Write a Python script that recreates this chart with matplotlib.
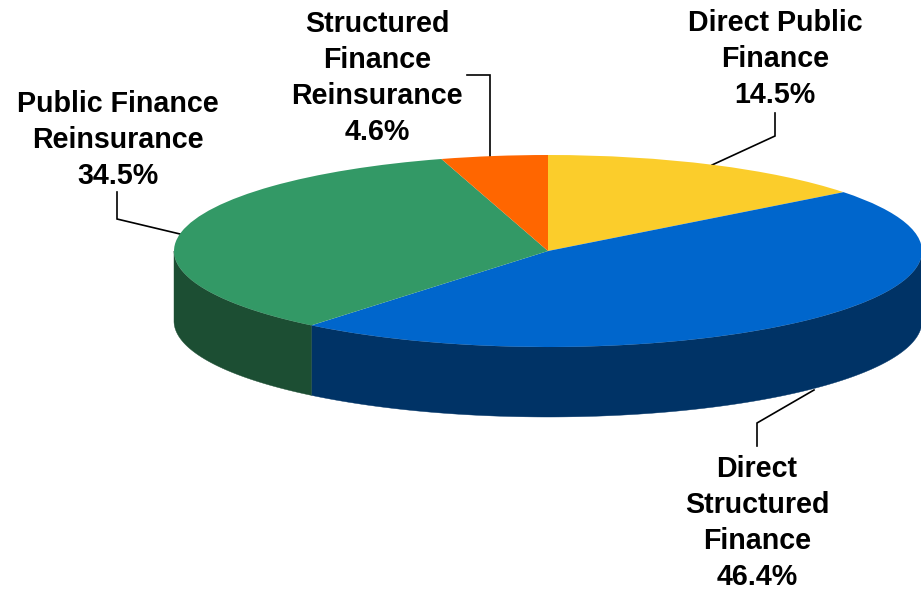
import numpy as np
import matplotlib.pyplot as plt
from matplotlib.patches import Polygon

labels = ['Direct Public\nFinance\n14.5%', 'Direct\nStructured\nFinance\n46.4%',
          'Public Finance\nReinsurance\n34.5%', 'Structured\nFinance\nReinsurance\n4.6%']
shares = [14.5, 46.4, 34.5, 4.6]
top_colors = ['#FBCD2B', '#0066CC', '#339966', '#FF6600']
side_colors = ['#B8941C', '#003366', '#1C4E33', '#B34700']

# label centres and leader lines, in reference pixels
label_xy = [(775, 59), (757, 523), (118, 140), (377, 78)]
leaders = [[(775, 113), (775, 136), (712, 165)],
           [(757, 446), (757, 423), (814, 390)],
           [(117, 192), (117, 219), (180, 234)],
           [(467, 75), (490, 75), (490, 157)]]

W, H = 921, 590
cx, cy, rx, ry, depth = 548, 251, 374, 96, 70


def to_data(px, py):
    return (px - cx) / rx, (cy - py) / ry


fig = plt.figure(figsize=(W / 100, H / 100), dpi=100)
ax = fig.add_axes([0, 0, 1, 1])

wedges, _ = ax.pie(shares, colors=top_colors, startangle=90, counterclock=False,
                   radius=1, wedgeprops={'linewidth': 0, 'zorder': 3})
ax.set_aspect('auto')
ax.set_xlim(-cx / rx, (W - cx) / rx)
ax.set_ylim((cy - H) / ry, cy / ry)
ax.axis('off')

# side wall, only the front half of the disc shows (theta runs -180..0 here)
d = depth / ry
for w, col in zip(wedges, side_colors):
    lo, hi = max(w.theta1, -180), min(w.theta2, 0)
    if hi <= lo:
        continue
    t = np.radians(np.linspace(lo, hi, 200))
    xs = np.cos(t)
    ys = np.sin(t)
    pts = np.r_[np.c_[xs, ys], np.c_[xs[::-1], ys[::-1] - d]]
    ax.add_patch(Polygon(pts, closed=True, facecolor=col, edgecolor=col, linewidth=0.3, zorder=2))

for pts in leaders:
    xy = [to_data(*p) for p in pts]
    ax.plot([p[0] for p in xy], [p[1] for p in xy], color='black', lw=1.2, zorder=1,
            solid_joinstyle='miter')

for txt, (px, py) in zip(labels, label_xy):
    x, y = to_data(px, py)
    ax.text(x, y, txt, ha='center', va='center', family='Liberation Sans', weight='bold',
            fontsize=20.6, linespacing=1.36, color='black')

fig.savefig('out.png', dpi=100)
